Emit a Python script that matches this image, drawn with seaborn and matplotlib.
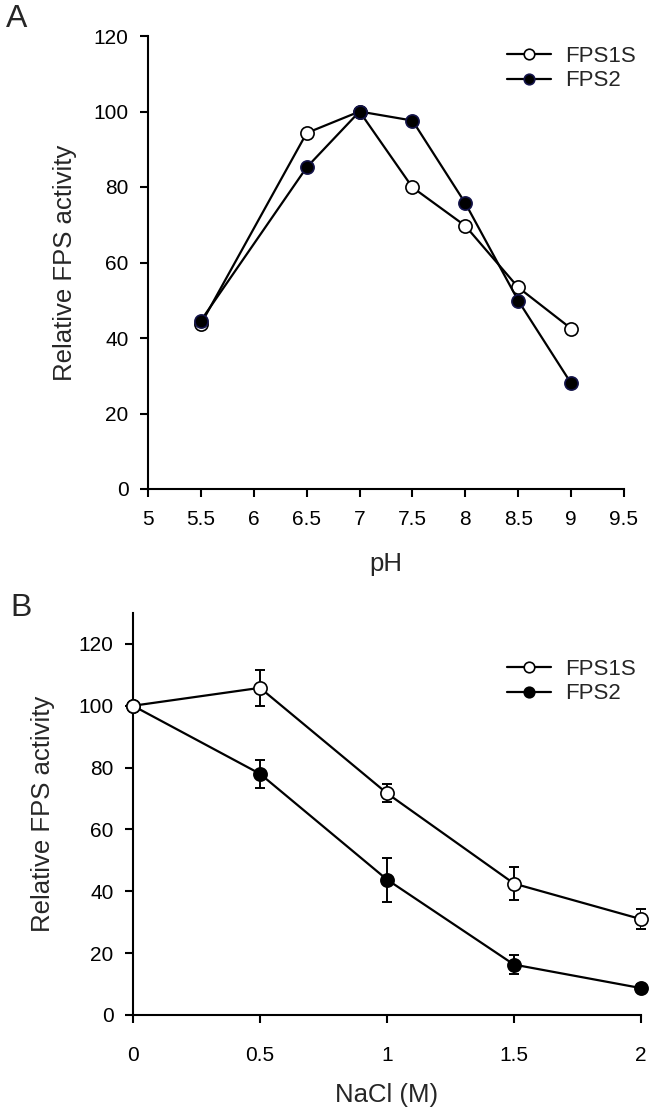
import matplotlib
matplotlib.use("Agg")
import matplotlib.pyplot as plt
import numpy as np
import pandas as pd
import seaborn as sns
from matplotlib.ticker import FuncFormatter

# panel A: pH profile
ph = [5.5, 6.5, 7, 7.5, 8, 8.5, 9]
ph_fps1s = [43.7, 94.3, 100, 79.9, 69.7, 53.4, 42.5]
ph_fps2 = [44.6, 85.2, 100, 97.6, 75.7, 49.9, 28.0]

# panel B: NaCl
nacl = [0, 0.5, 1, 1.5, 2]
nacl_fps1s = [100, 105.8, 71.7, 42.5, 31.0]
nacl_fps1s_err = [0, 5.9, 2.9, 5.2, 3.2]
nacl_fps2 = [100, 78.0, 43.8, 16.3, 8.7]
nacl_fps2_err = [0, 4.6, 7.1, 3.1, 1.2]

sns.set_theme(style="ticks")
plt.rcParams["font.family"] = ["Liberation Sans", "DejaVu Sans"]
plt.rcParams["axes.linewidth"] = 1.5

TICK_FS = 15
LABEL_FS = 18.5
LEG_FS = 16
W, H = 658, 1114
fig = plt.figure(figsize=(W / 100, H / 100), dpi=100)

ax_a = fig.add_axes([148 / W, 1 - 489 / H, (624 - 148) / W, (489 - 36) / H])
ax_b = fig.add_axes([133 / W, 1 - 1015 / H, (641 - 133) / W, (1015 - 613) / H])

open_kw = dict(marker="o", markersize=9.5, markerfacecolor="white",
               markeredgecolor="black", markeredgewidth=1.2, color="black",
               linewidth=1.6)
fill_kw = dict(marker="o", markersize=9.5, markerfacecolor="black",
               markeredgecolor="black", markeredgewidth=1.2, color="black",
               linewidth=1.6)

# ---- A ----
df_a = pd.DataFrame({"pH": ph, "FPS1S": ph_fps1s, "FPS2": ph_fps2})
sns.lineplot(data=df_a, x="pH", y="FPS1S", ax=ax_a, label="FPS1S", **open_kw)
sns.lineplot(data=df_a, x="pH", y="FPS2", ax=ax_a, label="FPS2",
             **{**fill_kw, "markeredgecolor": "#14144a"})
ax_a.set_xlim(5, 9.5)
ax_a.set_ylim(0, 120)
ax_a.set_xticks(np.arange(5, 9.51, 0.5))
ax_a.set_yticks(range(0, 121, 20))
ax_a.set_xlabel("pH", fontsize=LABEL_FS, labelpad=17)
ax_a.set_ylabel("Relative FPS activity", fontsize=LABEL_FS, labelpad=12)

# ---- B ----
df_b = pd.DataFrame({"NaCl": nacl, "FPS1S": nacl_fps1s, "FPS2": nacl_fps2})
ax_b.errorbar(nacl, nacl_fps2, yerr=nacl_fps2_err, fmt="none", ecolor="black",
              elinewidth=1.4, capsize=3.5, capthick=1.4, zorder=2)
ax_b.errorbar(nacl, nacl_fps1s, yerr=nacl_fps1s_err, fmt="none", ecolor="black",
              elinewidth=1.4, capsize=3.5, capthick=1.4, zorder=2)
sns.lineplot(data=df_b, x="NaCl", y="FPS2", ax=ax_b, label="FPS2", zorder=3, **fill_kw)
sns.lineplot(data=df_b, x="NaCl", y="FPS1S", ax=ax_b, label="FPS1S", zorder=4, **open_kw)
ax_b.set_xlim(0, 2)
ax_b.set_ylim(0, 130)
ax_b.set_xticks(nacl)
ax_b.set_yticks(range(0, 121, 20))
ax_b.set_xlabel("NaCl (M)", fontsize=LABEL_FS, labelpad=13)
ax_b.set_ylabel("Relative FPS activity", fontsize=LABEL_FS, labelpad=17)

legend_tops = {ax_a: 46, ax_b: 659}
xpads = {ax_a: 9, ax_b: 16}
for ax in (ax_a, ax_b):
    sns.despine(ax=ax)
    for s in ("left", "bottom"):
        ax.spines[s].set_color("black")
    ax.tick_params(axis="both", direction="out", length=6, width=1.5,
                   colors="black", labelsize=TICK_FS, pad=8)
    ax.tick_params(axis="x", pad=xpads[ax])
    ax.xaxis.set_major_formatter(FuncFormatter(lambda v, p: f"{v:g}"))
    for ln in ax.lines:
        ln.set_clip_on(False)
    h, l = ax.get_legend_handles_labels()
    order = [l.index("FPS1S"), l.index("FPS2")]
    ax.legend([h[i] for i in order], [l[i] for i in order], loc="upper left",
              bbox_to_anchor=(507 / W, 1 - legend_tops[ax] / H),
              bbox_transform=fig.transFigure, borderpad=0, borderaxespad=0,
              frameon=False, fontsize=LEG_FS, markerscale=0.8,
              handlelength=2.0, handletextpad=0.6, labelspacing=0.15)

fig.text(6 / W, 1 - 19 / H, "A", fontsize=23, va="center", ha="left")
fig.text(10 / W, 1 - 608 / H, "B", fontsize=23, va="center", ha="left")

fig.savefig("out.png", dpi=100)
